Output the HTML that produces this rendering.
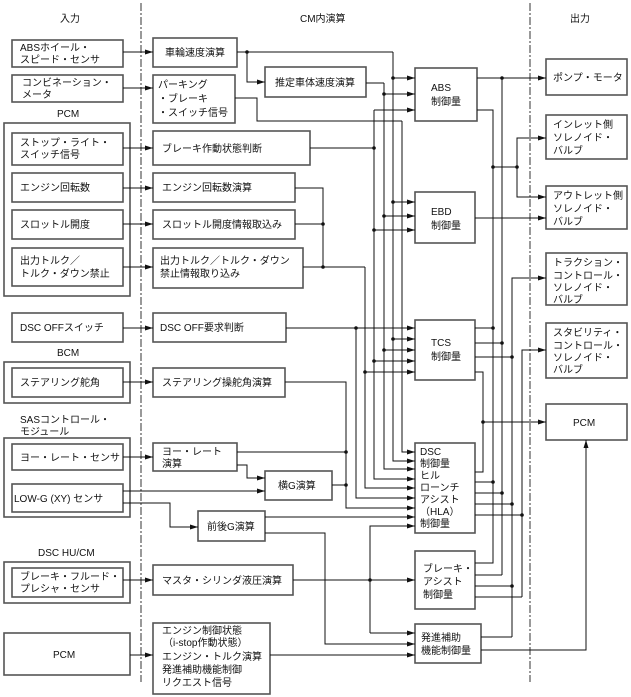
<!DOCTYPE html>
<html><head><meta charset="utf-8"><style>
html,body{margin:0;padding:0;background:#fff;}
svg{display:block;}
text{font-family:"Liberation Sans","Noto Sans CJK JP",sans-serif;font-size:10px;fill:#111;}
.b{fill:#fff;stroke:#555;stroke-width:1.6;}
.l{fill:none;stroke:#111;stroke-width:1;}
.g{fill:none;stroke:#666;stroke-width:1.2;}
</style></head><body>
<svg width="631" height="697" viewBox="0 0 631 697" xmlns="http://www.w3.org/2000/svg">
<defs><marker id="a" markerWidth="8" markerHeight="6" refX="8" refY="3" orient="auto" markerUnits="userSpaceOnUse"><path d="M0,0.5 L8,3 L0,5.5z" fill="#111"/></marker></defs>
<g stroke="#333" stroke-width="1" stroke-dasharray="8,2,2,2">
<line x1="141" y1="3" x2="141" y2="682"/><line x1="530" y1="3" x2="530" y2="682"/></g>
<text x="60" y="22">入力</text><text x="300" y="22">CM内演算</text><text x="570" y="22">出力</text>

<!-- left groups -->
<rect class="b" x="4" y="123" width="126" height="173"/>
<rect class="b" x="4" y="362" width="126" height="41"/>
<rect class="b" x="4" y="438" width="126" height="79"/>
<rect class="b" x="4" y="562" width="126" height="41"/>
<text x="57" y="117">PCM</text><text x="57" y="356">BCM</text>
<text x="20" y="423">SASコントロール・</text><text x="20" y="435">モジュール</text>
<text x="38" y="556">DSC HU/CM</text>

<rect class="b" x="12" y="40" width="111" height="27"/><text x="20" y="51">ABSホイール・</text><text x="20" y="63">スピード・センサ</text>
<rect class="b" x="12" y="75" width="111" height="27"/><text x="22" y="86">コンビネーション・</text><text x="22" y="98">メータ</text>
<rect class="b" x="12" y="133" width="111" height="32"/><text x="20" y="146">ストップ・ライト・</text><text x="20" y="158">スイッチ信号</text>
<rect class="b" x="12" y="173" width="111" height="29"/><text x="20" y="191">エンジン回転数</text>
<rect class="b" x="12" y="210" width="111" height="29"/><text x="20" y="228">スロットル開度</text>
<rect class="b" x="12" y="248" width="111" height="38"/><text x="20" y="264">出力トルク／</text><text x="20" y="277">トルク・ダウン禁止</text>
<rect class="b" x="12" y="313" width="111" height="29"/><text x="20" y="331">DSC OFFスイッチ</text>
<rect class="b" x="12" y="368" width="111" height="29"/><text x="20" y="386">ステアリング舵角</text>
<rect class="b" x="12" y="444" width="111" height="26"/><text x="20" y="461">ヨー・レート・センサ</text>
<rect class="b" x="12" y="484" width="111" height="28"/><text x="14" y="502">LOW-G (XY) センサ</text>
<rect class="b" x="12" y="568" width="111" height="29"/><text x="20" y="580">ブレーキ・フルード・</text><text x="20" y="592">プレシャ・センサ</text>
<rect class="b" x="4" y="633" width="126" height="42"/><text x="53" y="658">PCM</text>

<!-- middle -->
<rect class="b" x="153" y="38" width="84" height="29"/><text x="165" y="56">車輪速度演算</text>
<rect class="b" x="153" y="75" width="82" height="48"/><text x="158" y="88">パーキング</text><text x="158" y="102">・ブレーキ</text><text x="158" y="116">・スイッチ信号</text>
<rect class="b" x="265" y="67" width="101" height="30"/><text x="275" y="86">推定車体速度演算</text>
<rect class="b" x="153" y="131" width="157" height="34"/><text x="162" y="152">ブレーキ作動状態判断</text>
<rect class="b" x="153" y="173" width="142" height="29"/><text x="162" y="191">エンジン回転数演算</text>
<rect class="b" x="153" y="210" width="142" height="29"/><text x="162" y="228">スロットル開度情報取込み</text>
<rect class="b" x="153" y="248" width="150" height="40"/><text x="160" y="264">出力トルク／トルク・ダウン</text><text x="160" y="277">禁止情報取り込み</text>
<rect class="b" x="153" y="313" width="133" height="29"/><text x="160" y="331">DSC OFF要求判断</text>
<rect class="b" x="153" y="368" width="132" height="29"/><text x="162" y="386">ステアリング操舵角演算</text>
<rect class="b" x="153" y="443" width="84" height="28"/><text x="162" y="455">ヨー・レート</text><text x="162" y="467">演算</text>
<rect class="b" x="265" y="471" width="67" height="29"/><text x="278" y="489">横G演算</text>
<rect class="b" x="198" y="511" width="67" height="30"/><text x="207" y="530">前後G演算</text>
<rect class="b" x="153" y="565" width="140" height="30"/><text x="162" y="584">マスタ・シリンダ液圧演算</text>
<rect class="b" x="153" y="623" width="117" height="71"/><text x="162" y="634">エンジン制御状態</text><text x="163" y="646">（i-stop作動状態）</text><text x="162" y="660">エンジン・トルク演算</text><text x="162" y="673">発進補助機能制御</text><text x="162" y="686">リクエスト信号</text>

<!-- control -->
<rect class="b" x="415" y="68" width="62" height="53"/><text x="431" y="91">ABS</text><text x="431" y="105">制御量</text>
<rect class="b" x="415" y="192" width="60" height="51"/><text x="431" y="215">EBD</text><text x="431" y="229">制御量</text>
<rect class="b" x="415" y="320" width="60" height="60"/><text x="431" y="346">TCS</text><text x="431" y="360">制御量</text>
<rect class="b" x="415" y="443" width="60" height="90"/><text x="420" y="455">DSC</text><text x="420" y="467">制御量</text><text x="420" y="479">ヒル</text><text x="420" y="491">ローンチ</text><text x="420" y="503">アシスト</text><text x="420" y="515">（HLA）</text><text x="420" y="527">制御量</text>
<rect class="b" x="415" y="551" width="60" height="58"/><text x="423" y="572">ブレーキ・</text><text x="423" y="585">アシスト</text><text x="423" y="598">制御量</text>
<rect class="b" x="415" y="624" width="66" height="39"/><text x="421" y="641">発進補助</text><text x="421" y="654">機能制御量</text>

<!-- outputs -->
<rect class="b" x="546" y="59" width="81" height="36"/><text x="553" y="81">ポンプ・モータ</text>
<rect class="b" x="546" y="115" width="81" height="44"/><text x="553" y="128">インレット側</text><text x="553" y="141">ソレノイド・</text><text x="553" y="154">バルブ</text>
<rect class="b" x="546" y="186" width="81" height="43"/><text x="553" y="199">アウトレット側</text><text x="553" y="212">ソレノイド・</text><text x="553" y="225">バルブ</text>
<rect class="b" x="546" y="253" width="81" height="52"/><text x="553" y="266">トラクション・</text><text x="553" y="279">コントロール・</text><text x="553" y="291">ソレノイド・</text><text x="553" y="303">バルブ</text>
<rect class="b" x="546" y="323" width="81" height="55"/><text x="553" y="336">スタビリティ・</text><text x="553" y="349">コントロール・</text><text x="553" y="361">ソレノイド・</text><text x="553" y="373">バルブ</text>
<rect class="b" x="546" y="404" width="81" height="36"/><text x="573" y="426">PCM</text>

<!-- left arrows -->
<g class="l" marker-end="url(#a)">
<line x1="123" y1="52" x2="153" y2="52"/><line x1="123" y1="88" x2="153" y2="88"/>
<line x1="123" y1="148" x2="153" y2="148"/><line x1="123" y1="188" x2="153" y2="188"/>
<line x1="123" y1="224" x2="153" y2="224"/><line x1="123" y1="267" x2="153" y2="267"/>
<line x1="123" y1="328" x2="153" y2="328"/><line x1="123" y1="382" x2="153" y2="382"/>
<line x1="123" y1="457" x2="153" y2="457"/><line x1="123" y1="491" x2="265" y2="491"/>
<polyline points="123,503 170,503 170,527 198,527"/>
<line x1="123" y1="580" x2="153" y2="580"/><line x1="130" y1="655" x2="153" y2="655"/>
<polyline points="247,52 247,82 265,82"/>
<polyline points="237,465 247,465 247,478 265,478"/>
<!-- ABS -->
<line x1="393" y1="78" x2="415" y2="78"/><line x1="384" y1="94" x2="415" y2="94"/><line x1="374" y1="110" x2="415" y2="110"/>
<!-- EBD -->
<line x1="393" y1="202" x2="415" y2="202"/><line x1="384" y1="216" x2="415" y2="216"/><line x1="374" y1="230" x2="415" y2="230"/>
<!-- TCS -->
<line x1="286" y1="328" x2="415" y2="328"/><line x1="393" y1="339" x2="415" y2="339"/><line x1="384" y1="350" x2="415" y2="350"/><line x1="374" y1="361" x2="415" y2="361"/><line x1="365" y1="372" x2="415" y2="372"/>
<!-- DSC -->
<polyline points="402,121 402,452 415,452"/><polyline points="393,52 393,461 415,461"/><polyline points="384,83 384,469 415,469"/>
<polyline points="374,110 374,479 415,479"/><polyline points="365,267 365,488 415,488"/><polyline points="356,328 356,498 415,498"/>
<polyline points="285,382 346,382 346,508 415,508"/><line x1="265" y1="517" x2="415" y2="517"/>
<polyline points="370,633 370,526 415,526"/>
<line x1="293" y1="580" x2="415" y2="580"/>
<line x1="370" y1="633" x2="415" y2="633"/>
<polyline points="265,533 325,533 325,644 415,644"/>
<line x1="270" y1="655" x2="415" y2="655"/>
<!-- outputs -->
<line x1="477" y1="78" x2="546" y2="78"/>
<polyline points="517,167 517,138 546,138"/><polyline points="517,167 517,197 546,197"/>
<line x1="475" y1="218" x2="546" y2="218"/>
<polyline points="512,637 512,278 546,278"/><polyline points="522,597 522,350 546,350"/>
<line x1="483" y1="422" x2="546" y2="422"/>
<polyline points="481,650 586,650 586,440"/>
</g>
<g class="l">
<line x1="237" y1="52" x2="393" y2="52"/>
<polyline points="366,83 384,83"/>
<polyline points="235,98 257,98 257,121 402,121"/>
<polyline points="310,148 374,148"/>
<polyline points="295,188 323,188 323,267"/><line x1="295" y1="224" x2="323" y2="224"/>
<polyline points="303,267 365,267"/>
<line x1="237" y1="452" x2="346" y2="452"/><line x1="332" y1="485" x2="346" y2="485"/>
<polyline points="477,110 493,110 493,563 475,563"/><line x1="502" y1="78" x2="502" y2="575"/><line x1="502" y1="575" x2="475" y2="575"/>
<line x1="493" y1="167" x2="517" y2="167"/>
<line x1="475" y1="328" x2="493" y2="328"/><line x1="475" y1="343" x2="502" y2="343"/><line x1="475" y1="357" x2="512" y2="357"/>
<polyline points="475,372 483,372 483,472 475,472"/>
<line x1="475" y1="482" x2="493" y2="482"/><line x1="475" y1="493" x2="502" y2="493"/><line x1="475" y1="504" x2="512" y2="504"/><line x1="475" y1="515" x2="522" y2="515"/>
<line x1="475" y1="586" x2="512" y2="586"/><line x1="475" y1="597" x2="522" y2="597"/><line x1="481" y1="637" x2="512" y2="637"/>
</g>
<g fill="#111">
<circle cx="247" cy="52" r="1.8"/><circle cx="393" cy="78" r="1.8"/><circle cx="384" cy="94" r="1.8"/><circle cx="374" cy="148" r="1.8"/>
<circle cx="393" cy="202" r="1.8"/><circle cx="384" cy="216" r="1.8"/><circle cx="374" cy="230" r="1.8"/>
<circle cx="323" cy="224" r="1.8"/><circle cx="323" cy="267" r="1.8"/>
<circle cx="356" cy="328" r="1.8"/><circle cx="393" cy="339" r="1.8"/><circle cx="384" cy="350" r="1.8"/><circle cx="374" cy="361" r="1.8"/><circle cx="365" cy="372" r="1.8"/>
<circle cx="346" cy="452" r="1.8"/><circle cx="346" cy="485" r="1.8"/><circle cx="370" cy="580" r="1.8"/>
<circle cx="502" cy="78" r="1.8"/><circle cx="493" cy="167" r="1.8"/><circle cx="517" cy="167" r="1.8"/>
<circle cx="493" cy="328" r="1.8"/><circle cx="502" cy="343" r="1.8"/><circle cx="512" cy="357" r="1.8"/><circle cx="483" cy="422" r="1.8"/>
<circle cx="493" cy="482" r="1.8"/><circle cx="502" cy="493" r="1.8"/><circle cx="512" cy="504" r="1.8"/><circle cx="522" cy="515" r="1.8"/>
<circle cx="512" cy="586" r="1.8"/>
</g>
</svg>
</body></html>
